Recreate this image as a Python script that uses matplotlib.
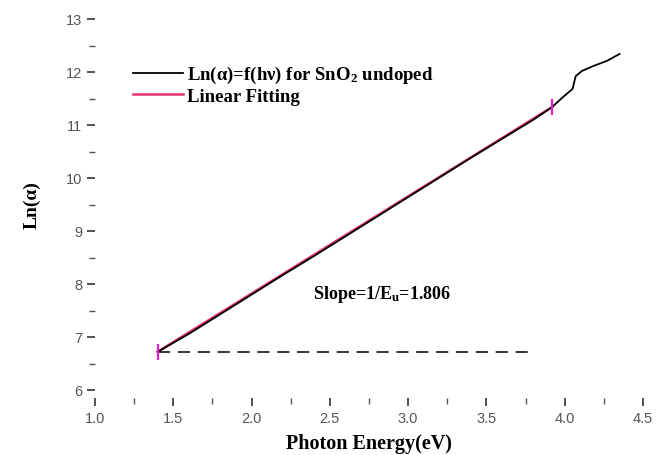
import matplotlib
matplotlib.use("Agg")
import matplotlib.pyplot as plt
from matplotlib.ticker import MultipleLocator

# Data
energy = [1.40, 1.60, 1.80, 2.00, 2.20, 2.40, 2.60, 2.80, 3.00, 3.20, 3.40,
          3.60, 3.80, 3.92, 3.99, 4.05, 4.07, 4.11, 4.18, 4.27, 4.35]
ln_alpha = [6.72, 7.06, 7.43, 7.80, 8.17, 8.53, 8.90, 9.27, 9.64, 10.01, 10.38,
            10.74, 11.10, 11.34, 11.53, 11.68, 11.92, 12.02, 12.11, 12.21, 12.34]
fit_energy = [1.40, 3.92]
fit_ln_alpha = [6.72, 11.34]
base_energy = [1.40, 3.80]
base_level = [6.72, 6.72]
slope_text = "Slope=1/E$_\\mathbf{u}$=1.806"
xticks = [1.0, 1.5, 2.0, 2.5, 3.0, 3.5, 4.0, 4.5]
yticks = [6, 7, 8, 9, 10, 11, 12, 13]

serif = "Liberation Serif"
sans = "Liberation Sans"
plt.rcParams["mathtext.fontset"] = "custom"
plt.rcParams["mathtext.rm"] = "Liberation Serif"
plt.rcParams["mathtext.bf"] = "Liberation Serif:bold"
plt.rcParams["mathtext.it"] = "Liberation Serif:italic"

fig = plt.figure(figsize=(6.57, 4.56), dpi=100)
ax = fig.add_axes([95/657, 1-391/456, 548/657, 371/456])

ax.plot(fit_energy, fit_ln_alpha, color="#e8306a", lw=1.8, label="Linear Fitting", zorder=2)
ax.plot(energy, ln_alpha, color="black", lw=1.3,
        label="Ln(\u03b1)=f(h\u03bd) for SnO$_\\mathbf{2}$ undoped", zorder=3)
ax.plot(base_energy, base_level, color="black", lw=1.1, linestyle=(0, (8, 5)), zorder=2)
ax.plot(fit_energy, fit_ln_alpha, linestyle="none", marker="|", markersize=11,
        markeredgewidth=1.6, color="#e020d0", zorder=4)

ax.text(2.39, 7.82, slope_text, fontfamily=serif, fontweight="bold", fontsize=13,
        ha="left", va="center")

ax.set_xlim(1.0, 4.5)
ax.set_ylim(6, 13)
ax.set_xticks(xticks)
ax.set_yticks(yticks)
ax.set_xticklabels([f"{t:.1f}" for t in xticks])
ax.set_yticklabels([str(t) for t in yticks])
ax.xaxis.set_minor_locator(MultipleLocator(0.25))
ax.yaxis.set_minor_locator(MultipleLocator(0.5))

for s in ["top", "right", "left", "bottom"]:
    ax.spines[s].set_visible(False)
ax.spines["bottom"].set_position(("outward", 6))

ax.tick_params(axis="both", which="major", direction="out", length=6, width=1.2,
               color="#333333", labelsize=10.5, labelcolor="#555555", pad=3)
ax.tick_params(axis="both", which="minor", direction="out", length=4, width=1.0,
               color="#555555")
for lab in ax.get_xticklabels() + ax.get_yticklabels():
    lab.set_fontfamily(sans)

ax.set_xlabel("Photon Energy(eV)", fontfamily=serif, fontweight="bold", fontsize=14.5, labelpad=6)
ax.set_ylabel("Ln(\u03b1)", fontfamily=serif, fontweight="bold", fontsize=14, labelpad=18)

handles, labels = ax.get_legend_handles_labels()
leg = ax.legend(handles[::-1], labels[::-1], loc="upper left",
                bbox_to_anchor=(0.069, 0.878), frameon=False,
                prop={"family": serif, "weight": "bold", "size": 13.5},
                handlelength=2.7, handletextpad=0.2, labelspacing=0.12,
                borderpad=0, borderaxespad=0)

fig.savefig("out.png", dpi=100)
